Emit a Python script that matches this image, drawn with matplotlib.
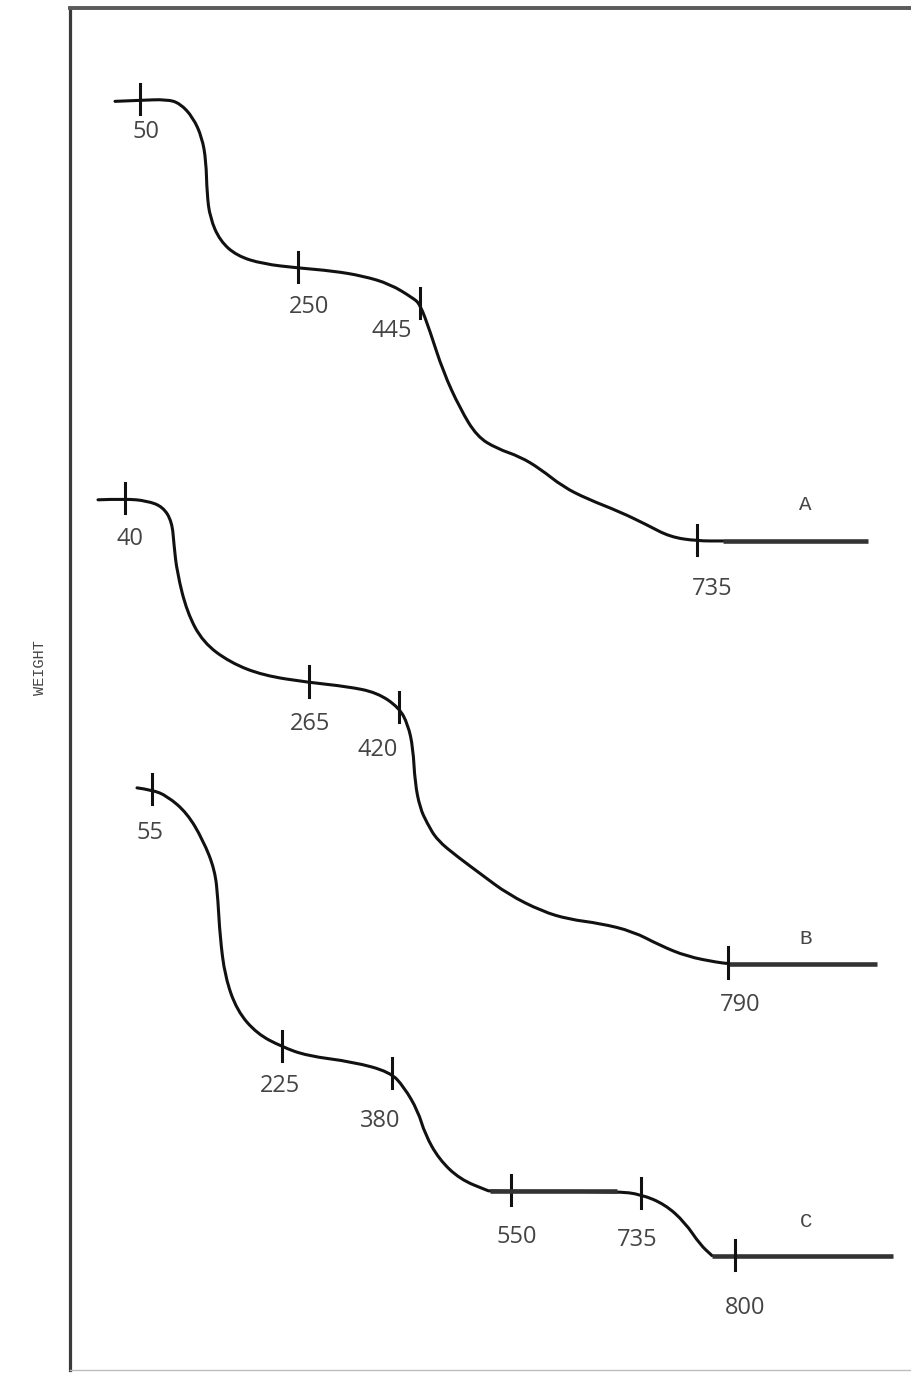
import numpy as np
import matplotlib
import matplotlib.pyplot as plt
from matplotlib.path import Path
from matplotlib.patches import PathPatch

matplotlib.use('Agg')

# traced curves (horizontal position, weight position; weight grows downward)
a_x = [115, 140, 167, 180, 193, 202, 206, 207, 210, 220, 237, 263, 298, 333, 363, 390,
       413, 420, 430, 443, 460, 477, 497, 520, 540, 563, 587, 620, 647, 670, 697, 723]
a_y = [101, 100, 99, 103, 117, 137, 160, 193, 217, 240, 255, 263, 267, 270, 275, 283,
       297, 303, 330, 370, 407, 435, 447, 455, 467, 485, 497, 510, 523, 535, 539, 539]
a_flat = [723, 868]

b_x = [98, 125, 147, 163, 172, 174, 177, 187, 203, 230, 263, 309, 347, 377, 399, 408,
       413, 415, 420, 427, 437, 458, 481, 508, 542, 569, 600, 633, 660, 687, 718, 728]
b_y = [498, 497, 499, 505, 520, 543, 570, 610, 640, 660, 673, 680, 684, 690, 705, 722,
       745, 780, 805, 820, 837, 854, 871, 891, 908, 916, 920, 928, 942, 953, 959, 960]
b_flat = [728, 877]

c_x = [137, 152, 167, 187, 203, 215, 218, 220, 225, 237, 257, 282, 307, 353, 390, 404,
       418, 425, 439, 460, 487, 490, 617, 641, 665, 685, 700, 712]
c_y = [785, 787, 793, 810, 837, 867, 897, 933, 973, 1007, 1030, 1043, 1052, 1058, 1068, 1083,
       1107, 1130, 1155, 1175, 1186, 1187, 1187, 1190, 1200, 1218, 1240, 1251]
c_mid_flat = [490, 617]
c_flat = [712, 893]

a_ticks = [140, 298, 420, 697]
a_labels = ['50', '250', '445', '735']
b_ticks = [125, 309, 399, 728]
b_labels = ['40', '265', '420', '790']
c_ticks = [152, 282, 392, 511, 641, 735]
c_labels = ['55', '225', '380', '550', '735', '800']

names = ['A', 'B', 'C']

# label offsets in pixels from the tick centre
a_off = [(6, -32), (11, -39), (-28, -27), (15, -48)]
b_off = [(5, -40), (1, -42), (-21, -42), (12, -41)]
c_off = [(-2, -43), (-2, -39), (-12, -47), (6, -46), (-4, -46), (10, -52)]
name_pos = [(805, 503), (806, 935), (806, 1217)]


def smooth_path(xs, ys):
    # quadratic bezier through the midpoints, traced points act as controls
    pts = np.column_stack([xs, ys]).astype(float)
    verts = [pts[0]]
    codes = [Path.MOVETO]
    for i in range(1, len(pts) - 1):
        mid = (pts[i] + pts[i + 1]) / 2
        verts += [pts[i], mid]
        codes += [Path.CURVE3, Path.CURVE3]
    verts.append(pts[-1])
    codes.append(Path.LINETO)
    return Path(verts, codes)


fig = plt.figure(figsize=(9.11, 13.73), dpi=100)
ax = fig.add_axes([70 / 911, 3 / 1373, 841 / 911, 1362 / 1373])
ax.set_xlim(70, 911)
ax.set_ylim(1365, 8)
ax.set_xticks([])
ax.set_yticks([])
ax.spines['right'].set_visible(False)
ax.spines['left'].set_linewidth(2.3)
ax.spines['left'].set_color('#3a3a3a')
ax.spines['top'].set_linewidth(2.8)
ax.spines['top'].set_color('#5a5a5a')
ax.spines['bottom'].set_linewidth(1.0)
ax.spines['bottom'].set_color('#bdbdbd')

curves = [(a_x, a_y, a_flat, a_ticks, a_labels, a_off),
          (b_x, b_y, b_flat, b_ticks, b_labels, b_off),
          (c_x, c_y, c_flat, c_ticks, c_labels, c_off)]

for i, (xs, ys, flat, ticks, labels, offs) in enumerate(curves):
    ax.add_patch(PathPatch(smooth_path(xs, ys), fill=False, edgecolor='#111111',
                           lw=2.2, capstyle='round', joinstyle='round'))
    ax.plot(flat, [ys[-1], ys[-1]], color='#333333', lw=3.3, solid_capstyle='butt')
    for t, lab, (dx, dy) in zip(ticks, labels, offs):
        ty = np.interp(t, xs, ys)
        ax.plot([t, t], [ty - 16, ty + 14], color='#111111', lw=2.2)
        ax.annotate(lab, (t, ty), xytext=(dx, dy), textcoords='offset pixels',
                    ha='center', va='center', fontsize=17, color='#444444',
                    family='Open Sans')
    nx, ny = name_pos[i]
    ax.text(nx, ny, names[i], ha='center', va='center', fontsize=15,
            color='#444444', family='Liberation Mono')

ax.plot(c_mid_flat, [1187, 1187], color='#333333', lw=3.3, solid_capstyle='butt')

ax.text(40, 665, 'WEIGHT', rotation=90, ha='center', va='center', fontsize=11,
        color='#444444', family='Liberation Mono', clip_on=False)

fig.savefig('out.png', dpi=100)
